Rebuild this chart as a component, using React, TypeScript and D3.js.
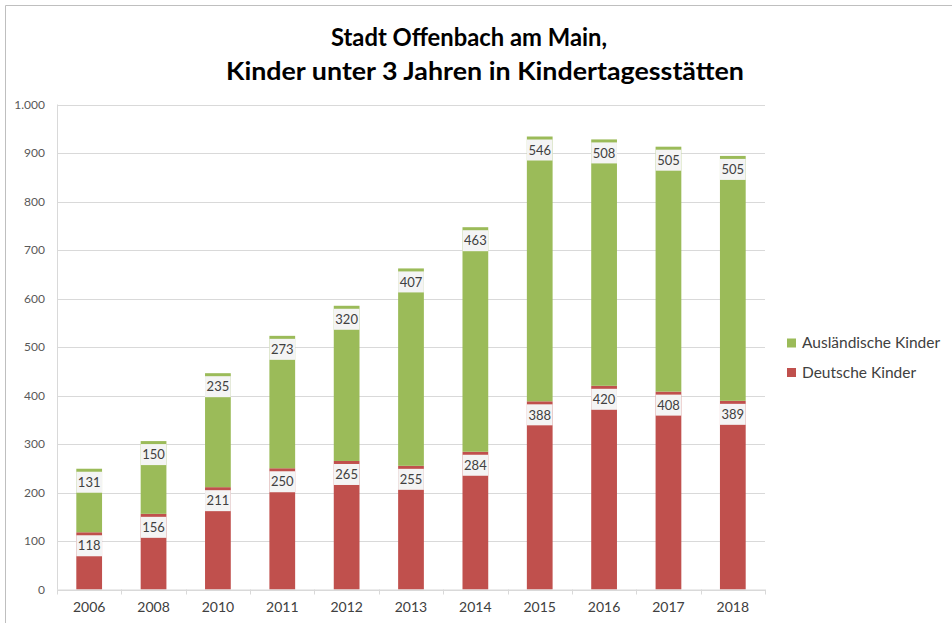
import React, { useEffect, useRef } from 'react';
import * as d3 from 'd3';

const years = ['2006', '2008', '2010', '2011', '2012', '2013', '2014', '2015', '2016', '2017', '2018'];
const deutsche = [118, 156, 211, 250, 265, 255, 284, 388, 420, 408, 389];
const auslaendische = [131, 150, 235, 273, 320, 407, 463, 546, 508, 505, 505];
const yTicks = [0, 100, 200, 300, 400, 500, 600, 700, 800, 900, 1000];
const seriesNames = ['Ausländische Kinder', 'Deutsche Kinder'];
const titleLines = ['Stadt Offenbach am Main,', 'Kinder unter 3 Jahren in Kindertagesstätten'];

const RED = '#c0504d';
const GREEN = '#9bbb59';
const FONT = 'Lato, "Open Sans", sans-serif';

export default function App() {
    const ref = useRef<SVGSVGElement>(null);

    useEffect(() => {
        const width = 952;
        const height = 623;
        const left = 57;
        const right = 765;
        const top = 104.5;
        const bottom = 589.5;

        const svg = d3.select(ref.current);
        svg.selectAll('*').remove();

        svg.append('rect').attr('width', width).attr('height', height).attr('fill', '#fff');

        // frame of the chart area
        svg.append('path')
            .attr('d', `M5.5,${height} V5.5 H${width}`)
            .attr('fill', 'none')
            .attr('stroke', '#bfbfbf')
            .attr('stroke-width', 1);

        // title
        svg.selectAll('text.title')
            .data(titleLines)
            .enter()
            .append('text')
            .attr('class', 'title')
            .attr('x', (d, i) => (i === 0 ? 469 : 485))
            .attr('y', (d, i) => 46 + i * 34)
            .attr('text-anchor', 'middle')
            .attr('textLength', (d, i) => (i === 0 ? 276 : 518))
            .attr('lengthAdjust', 'spacingAndGlyphs')
            .style('font-family', FONT)
            .style('font-size', '24px')
            .style('font-weight', 'bold')
            .style('fill', '#000')
            .text(d => d);

        const x = d3.scaleBand<string>()
            .domain(years)
            .range([left, right])
            .paddingInner(0.6)
            .paddingOuter(0.3);

        const y = d3.scaleLinear()
            .domain([0, 1000])
            .range([bottom, top]);

        // gridlines
        svg.append('g')
            .selectAll('line')
            .data(yTicks)
            .enter()
            .append('line')
            .attr('x1', left)
            .attr('x2', right)
            .attr('y1', d => Math.round(y(d)) + 0.5)
            .attr('y2', d => Math.round(y(d)) + 0.5)
            .attr('stroke', '#d9d9d9');

        // y axis line + labels
        svg.append('line')
            .attr('x1', left + 0.5).attr('x2', left + 0.5)
            .attr('y1', top).attr('y2', bottom)
            .attr('stroke', '#d9d9d9');

        svg.append('g')
            .selectAll('text')
            .data(yTicks)
            .enter()
            .append('text')
            .attr('x', 45)
            .attr('y', d => y(d))
            .attr('dy', '0.35em')
            .attr('text-anchor', 'end')
            .style('font-family', FONT)
            .style('font-size', '12px')
            .style('fill', '#595959')
            .text(d => d3.format(',')(d).replace(',', '.'));

        // stacked bars
        const stackData = years.map((yr, i) => ({ year: yr, de: deutsche[i], aus: auslaendische[i] }));
        const stack = d3.stack<any>().keys(['de', 'aus'])(stackData);
        const colors: Record<string, string> = { de: RED, aus: GREEN };

        stack.forEach(layer => {
            const g = svg.append('g');
            g.selectAll('rect')
                .data(layer)
                .enter()
                .append('rect')
                .attr('x', d => x(d.data.year) as number)
                .attr('width', x.bandwidth())
                .attr('y', d => y(d[1]))
                .attr('height', d => y(d[0]) - y(d[1]))
                .attr('fill', colors[layer.key]);
        });

        // x axis
        svg.append('line')
            .attr('x1', left).attr('x2', right)
            .attr('y1', bottom + 0.5).attr('y2', bottom + 0.5)
            .attr('stroke', '#d9d9d9');

        const boundaries = years.map((yr) => (x(yr) as number) - x.step() * 0.3).concat([right]);
        svg.append('g')
            .selectAll('line')
            .data(boundaries)
            .enter()
            .append('line')
            .attr('x1', d => Math.round(d) + 0.5)
            .attr('x2', d => Math.round(d) + 0.5)
            .attr('y1', bottom)
            .attr('y2', bottom + 5)
            .attr('stroke', '#d9d9d9');

        svg.append('g')
            .selectAll('text')
            .data(years)
            .enter()
            .append('text')
            .attr('x', d => (x(d) as number) + x.bandwidth() / 2)
            .attr('y', 612)
            .attr('text-anchor', 'middle')
            .style('font-family', FONT)
            .style('font-size', '14px')
            .style('fill', '#404040')
            .text(d => d);

        // data labels with light boxes just below the top of each segment
        const boxH = 21;
        stack.forEach(layer => {
            const g = svg.append('g');
            g.selectAll('rect')
                .data(layer)
                .enter()
                .append('rect')
                .attr('x', d => x(d.data.year) as number)
                .attr('width', x.bandwidth())
                .attr('y', d => y(d[1]) + 3)
                .attr('height', boxH)
                .attr('fill', '#f4f4f4');
            g.selectAll('text')
                .data(layer)
                .enter()
                .append('text')
                .attr('x', d => (x(d.data.year) as number) + x.bandwidth() / 2)
                .attr('y', d => y(d[1]) + 3 + boxH / 2)
                .attr('dy', '0.36em')
                .attr('text-anchor', 'middle')
                .style('font-family', FONT)
                .style('font-size', '13px')
                .style('fill', '#404040')
                .text(d => d[1] - d[0]);
        });

        // legend
        const legendColors = [GREEN, RED];
        const legend = svg.append('g')
            .selectAll('g')
            .data(seriesNames)
            .enter()
            .append('g')
            .attr('transform', (d, i) => `translate(787, ${343 + i * 29.5})`);
        legend.append('rect')
            .attr('x', 0)
            .attr('y', -4.5)
            .attr('width', 9)
            .attr('height', 9)
            .attr('fill', (d, i) => legendColors[i]);
        legend.append('text')
            .attr('x', 15)
            .attr('y', 0)
            .attr('dy', '0.35em')
            .style('font-family', FONT)
            .style('font-size', '15.5px')
            .style('fill', '#404040')
            .text(d => d);
    }, []);

    return (
        <div style={{ position: 'absolute', left: 0, top: 0 }}>
            <svg ref={ref} width={952} height={623}></svg>
        </div>
    );
}
